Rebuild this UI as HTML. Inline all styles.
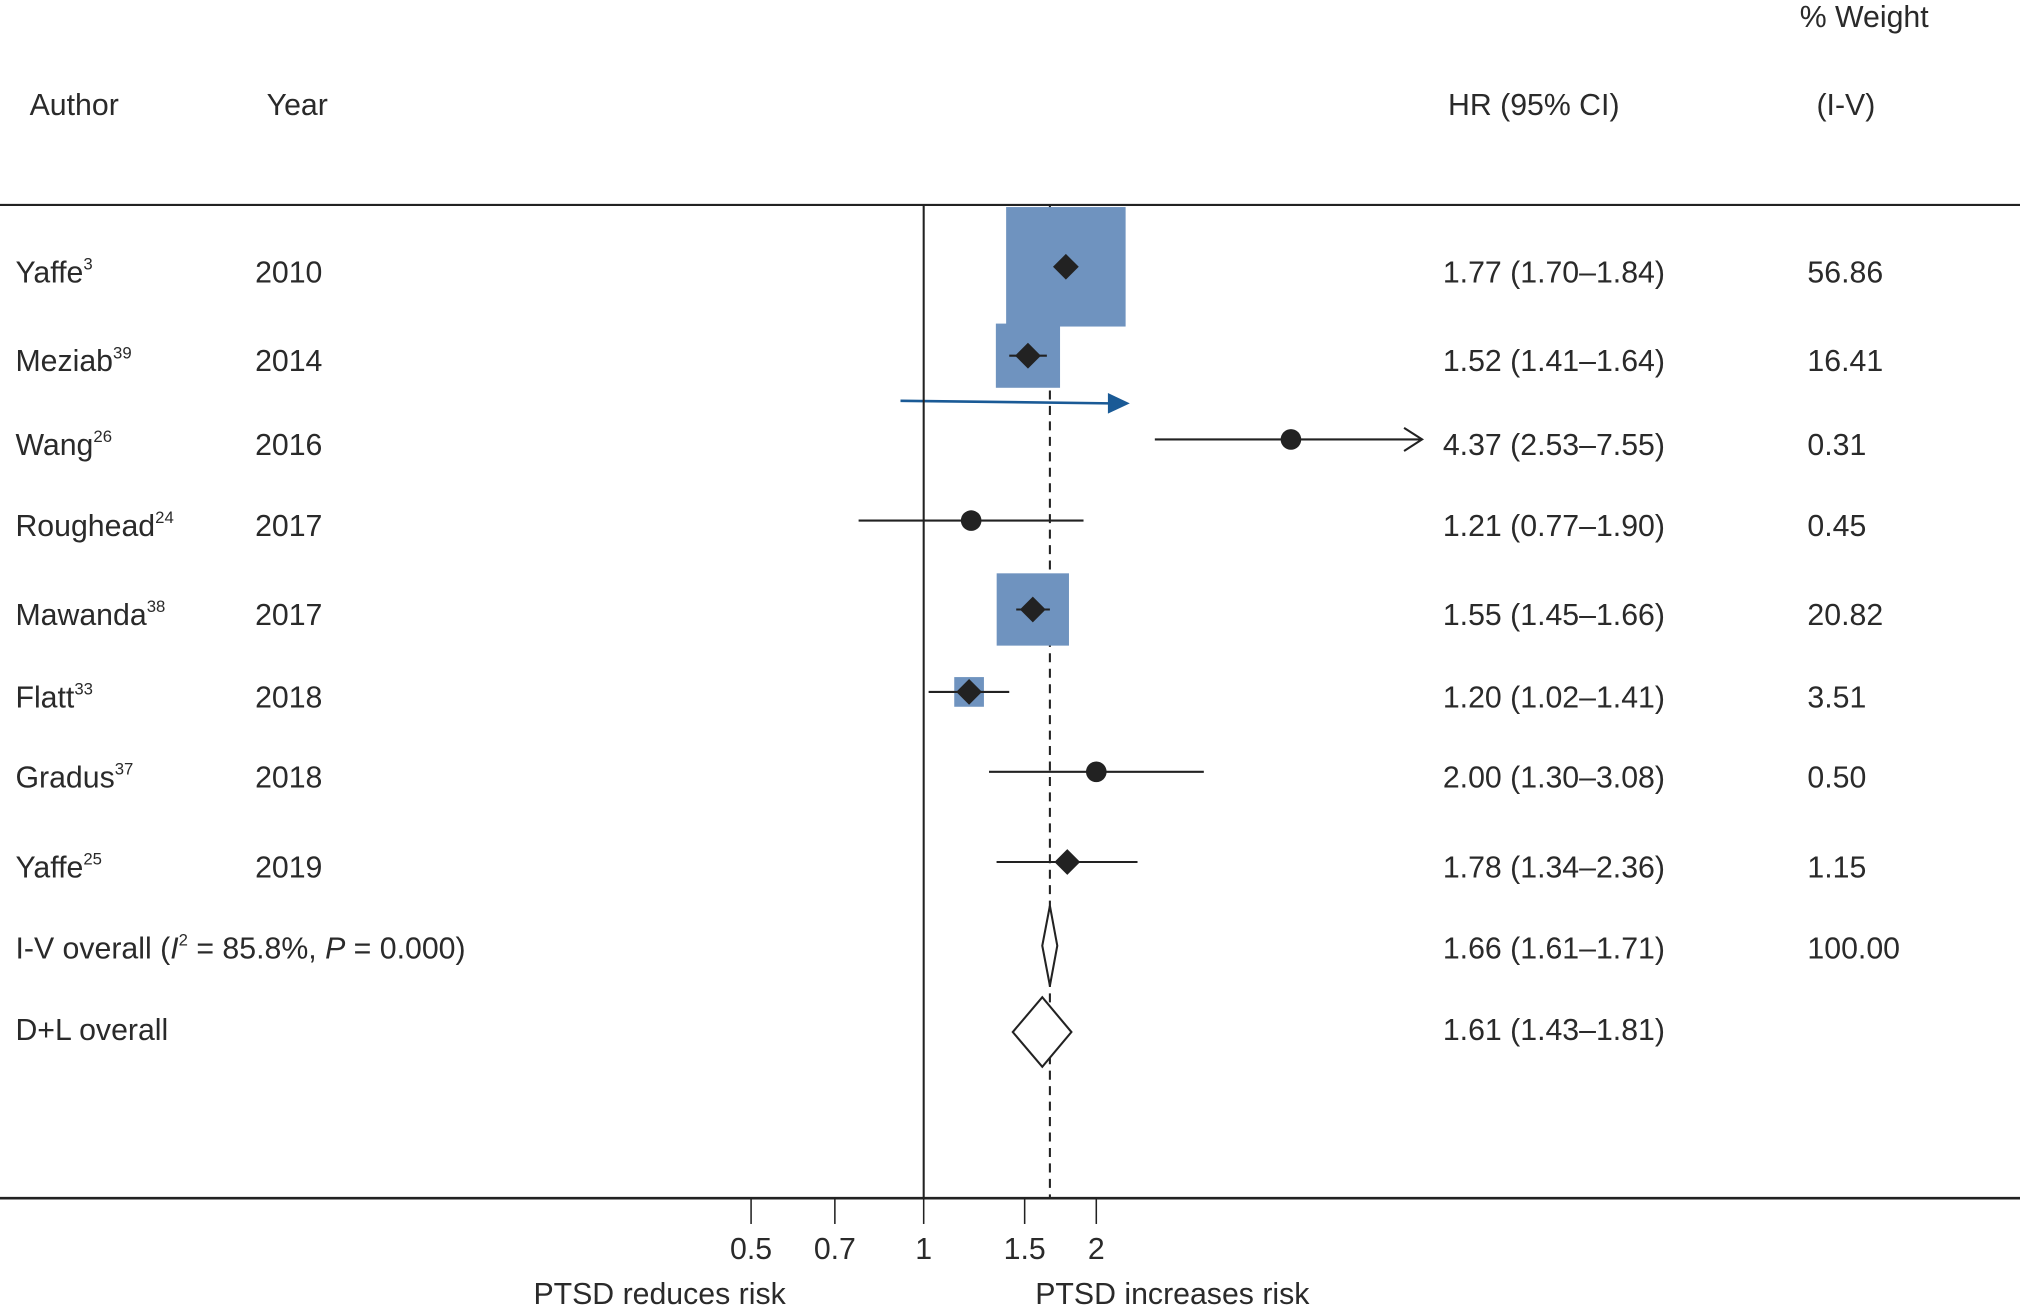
<!DOCTYPE html>
<html><head><meta charset="utf-8">
<style>
html,body{margin:0;padding:0;background:#fff;}
svg{display:block;}
text{font-family:"Liberation Sans",sans-serif;fill:#2a2a2a;}
</style></head>
<body>
<svg id="plot" width="2020" height="1313" viewBox="0 0 1568 1019" xmlns="http://www.w3.org/2000/svg">
<g id="static" font-size="23.5">
  <text x="1397" y="21">% Weight</text>
  <text x="23" y="89">Author</text>
  <text x="207" y="89">Year</text>
  <text x="1124" y="89">HR (95% CI)</text>
  <text x="1410" y="89">(I-V)</text>
  <line x1="0" y1="159" x2="1568" y2="159" stroke="#222" stroke-width="1.6"/>
  <line x1="0" y1="930" x2="1568" y2="930" stroke="#222" stroke-width="2"/>
  <text x="512" y="1012" text-anchor="middle">PTSD reduces risk</text>
  <text x="910" y="1012" text-anchor="middle">PTSD increases risk</text>
  <line x1="699" y1="311" x2="862" y2="313" stroke="#1a5a96" stroke-width="2"/>
  <polygon points="860,305 877,313 860,321" fill="#1a5a96"/>
</g>
<g id="marks"></g>
</svg>
<script>
const authors = ["Yaffe","Meziab","Wang","Roughead","Mawanda","Flatt","Gradus","Yaffe"];
const refs = ["3","39","26","24","38","33","37","25"];
const years = ["2010","2014","2016","2017","2017","2018","2018","2019"];
const hr = [1.77,1.52,4.37,1.21,1.55,1.20,2.00,1.78];
const lower = [1.70,1.41,2.53,0.77,1.45,1.02,1.30,1.34];
const upper = [1.84,1.64,7.55,1.90,1.66,1.41,3.08,2.36];
const weights = [56.86,16.41,0.31,0.45,20.82,3.51,0.50,1.15];
const weightLabels = ["56.86","16.41","0.31","0.45","20.82","3.51","0.50","1.15"];
const markerType = ["diamond","diamond","circle","circle","diamond","diamond","circle","diamond"];
const showBox = [true,true,false,false,true,true,false,false];
const ivOverall = [1.66,1.61,1.71];
const dlOverall = [1.61,1.43,1.81];
const ivLabel = "100.00";
const ticks = [0.5,0.7,1,1.5,2];
const tickLabels = ["0.5","0.7","1","1.5","2"];
const xMax = 7.4;

// layout (row text centres, pixels)
const ROW_TEXT_Y = [210,279,344,407,476,540,602,672,735,798];

const NS="http://www.w3.org/2000/svg";
const g=document.getElementById('marks');
function X(v){return 717+193.3*Math.log(v);}
function rowY(i){return ROW_TEXT_Y[i]-3;}
function mk(tag,attrs){const e=document.createElementNS(NS,tag);for(const k in attrs)e.setAttribute(k,attrs[k]);g.appendChild(e);return e;}
function fmt(v){return v.toFixed(2);}

let e=mk('line',{x1:X(1),y1:159,x2:X(1),y2:930,stroke:'#222','stroke-width':1.6});


e=mk('line',{x1:X(ivOverall[0]),y1:159,x2:X(ivOverall[0]),y2:930,stroke:'#222','stroke-width':1.6,'stroke-dasharray':'7,5'});



ticks.forEach((t,i)=>{
  let l=mk('line',{x1:X(t),y1:930,x2:X(t),y2:950,stroke:'#222','stroke-width':1.2});
  
  
  let tx=mk('text',{x:X(t),y:977,'text-anchor':'middle','font-size':23.5});
  tx.textContent=tickLabels[i];
  
  
});

authors.forEach((a,i)=>{
  const y=rowY(i);
  const ty=ROW_TEXT_Y[i]+9;
  if(showBox[i]){
    const s=12.3*Math.sqrt(weights[i]);
    let b=mk('rect',{x:X(hr[i])-s/2,y:y-s/2,width:s,height:s,fill:'#6f93bf'});
    
    
  }
  const hiClip=upper[i]>xMax;
  const x2=hiClip?X(xMax):X(upper[i]);
  let l=mk('line',{x1:X(lower[i]),y1:y,x2:x2,y2:y,stroke:'#222','stroke-width':1.6});
  
  
  if(hiClip){
    let ar=mk('polyline',{points:`${x2-14},${y-9} ${x2},${y} ${x2-14},${y+9}`,fill:'none',stroke:'#222','stroke-width':1.6});
    
    
  }
  const cx=X(hr[i]);
  let m;
  if(markerType[i]==='circle'){
    m=mk('circle',{cx:cx,cy:y,r:8,fill:'#222'});
  } else {
    m=mk('polygon',{points:`${cx},${y-10} ${cx+10},${y} ${cx},${y+10} ${cx-10},${y}`,fill:'#222'});
  }
  
  

  let t=mk('text',{x:12,y:ty,'font-size':23.5});
  t.textContent=a;
  const sup=document.createElementNS(NS,'tspan');
  sup.setAttribute('font-size','13');
  sup.setAttribute('dy','-10');
  sup.textContent=refs[i];
  t.appendChild(sup);
  
  
  let yr=mk('text',{x:198,y:ty,'font-size':23.5});
  yr.textContent=years[i];
  
  
  let h=mk('text',{x:1120,y:ty,'font-size':23.5});
  h.textContent=`${fmt(hr[i])} (${fmt(lower[i])}–${fmt(upper[i])})`;
  
  
  let w=mk('text',{x:1403,y:ty,'font-size':23.5});
  w.textContent=weightLabels[i];
  
  
});

function overall(vals,y,half,name){
  const p=`${X(vals[1])},${y} ${X(vals[0])},${y-half} ${X(vals[2])},${y} ${X(vals[0])},${y+half}`;
  let d=mk('polygon',{points:p,fill:'#fff',stroke:'#222','stroke-width':1.6});
  
  
}
const yIV=ROW_TEXT_Y[8]-1, yDL=ROW_TEXT_Y[9]+3;
overall(ivOverall,yIV,31,'iv-overall-diamond');
overall(dlOverall,yDL,27,'dl-overall-diamond');

let t=mk('text',{x:12,y:ROW_TEXT_Y[8]+9,'font-size':23.5});
t.innerHTML='I-V overall (<tspan font-style="italic">I</tspan><tspan font-size="13" dy="-10">2</tspan><tspan dy="10"> = 85.8%, </tspan><tspan font-style="italic">P</tspan> = 0.000)';


t=mk('text',{x:1120,y:ROW_TEXT_Y[8]+9,'font-size':23.5});
t.textContent=`${fmt(ivOverall[0])} (${fmt(ivOverall[1])}–${fmt(ivOverall[2])})`;


t=mk('text',{x:1403,y:ROW_TEXT_Y[8]+9,'font-size':23.5});
t.textContent=ivLabel;


t=mk('text',{x:12,y:ROW_TEXT_Y[9]+9,'font-size':23.5});
t.textContent='D+L overall';


t=mk('text',{x:1120,y:ROW_TEXT_Y[9]+9,'font-size':23.5});
t.textContent=`${fmt(dlOverall[0])} (${fmt(dlOverall[1])}–${fmt(dlOverall[2])})`;


</script>
</body></html>
